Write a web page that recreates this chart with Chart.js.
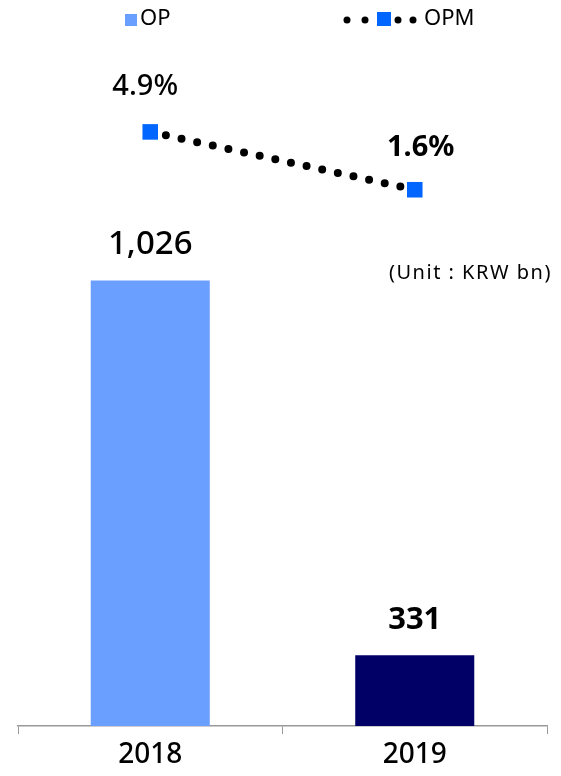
<!DOCTYPE html>
<html>
<head>
<meta charset="utf-8">
<script src="https://cdn.jsdelivr.net/npm/chart.js@4"></script>
<style>
  body { margin: 0; background: #fff; }
  #wrap { position: relative; width: 561px; height: 776px; }
</style>
</head>
<body>
<div id="wrap"><canvas id="opChart"></canvas></div>
<script>
const years = ['2018', '2019'];
const opValues = [1026, 331];
const opmValues = [4.9, 1.6];
const opLabels = ['1,026', '331'];
const opmLabels = ['4.9%', '1.6%'];
const barColors = ['#6a9eff', '#000066'];

const FONT = "'Noto Sans', sans-serif";

// value labels, unit note and the legend drawn on the canvas
const labelPlugin = {
  id: 'labels',
  afterDatasetsDraw(chart) {
    const ctx = chart.ctx;
    ctx.save();
    ctx.fillStyle = '#000';
    ctx.textAlign = 'center';
    ctx.textBaseline = 'bottom';

    const bars = chart.getDatasetMeta(1).data;
    bars.forEach((b, i) => {
      ctx.font = (i === 0 ? '500 33px ' : 'bold 31px ') + FONT;
      ctx.fillText(opLabels[i], b.x, b.y - 20);
    });

    const pts = chart.getDatasetMeta(0).data;
    pts.forEach((p, i) => {
      ctx.font = (i === 0 ? '500 29px ' : 'bold 29px ') + FONT;
      ctx.fillText(opmLabels[i], p.x + (i === 0 ? -5 : 6), p.y - (i === 0 ? 31 : 28));
    });

    ctx.font = '20px ' + FONT;
    ctx.letterSpacing = '1.5px';
    ctx.textAlign = 'left';
    ctx.textBaseline = 'middle';
    ctx.fillText('(Unit : KRW bn)', 389, 273);
    ctx.letterSpacing = '0px';

    // legend
    ctx.fillStyle = barColors[0];
    ctx.fillRect(125, 14, 12, 12);
    ctx.fillStyle = '#000';
    ctx.font = '22px ' + FONT;
    ctx.fillText('OP', 140, 19);

    [347, 365, 398, 413].forEach(x => {
      ctx.beginPath();
      ctx.arc(x, 20, 3.5, 0, Math.PI * 2);
      ctx.fill();
    });
    ctx.fillStyle = '#0066ff';
    ctx.fillRect(377, 12, 14, 14);
    ctx.fillStyle = '#000';
    ctx.fillText('OPM', 424, 19);
    ctx.restore();
  }
};

const ctx = document.getElementById('opChart').getContext('2d');
new Chart(ctx, {
  data: {
    labels: years,
    datasets: [
      {
        type: 'line',
        label: 'OPM',
        data: opmValues,
        yAxisID: 'y2',
        borderColor: '#000',
        borderWidth: 8,
        borderDash: [0, 16],
        borderCapStyle: 'round',
        pointStyle: 'rect',
        pointRadius: 11,
        pointBackgroundColor: '#0066ff',
        pointBorderWidth: 0,
        order: 0
      },
      {
        type: 'bar',
        label: 'OP',
        data: opValues,
        yAxisID: 'y',
        backgroundColor: barColors,
        barPercentage: 0.45,
        categoryPercentage: 1,
        order: 1
      }
    ]
  },
  options: {
    responsive: true,
    maintainAspectRatio: false,
    animation: false,
    layout: { padding: { left: 18, right: 14, top: 25, bottom: 0 } },
    plugins: {
      legend: { display: false },
      tooltip: { enabled: false }
    },
    scales: {
      x: {
        offset: true,
        grid: {
          offset: true,
          drawOnChartArea: false,
          drawTicks: true,
          tickLength: 8,
          color: '#999'
        },
        border: { color: '#999', width: 1.5 },
        ticks: {
          color: '#000',
          padding: 4,
          font: { family: FONT, size: 28, weight: '500' }
        },
        afterFit: s => { s.height = 50; }
      },
      y: {
        display: false,
        min: 200,
        max: 1500
      },
      y2: {
        display: false,
        min: -29,
        max: 11
      }
    }
  },
  plugins: [labelPlugin]
});
</script>
</body>
</html>
